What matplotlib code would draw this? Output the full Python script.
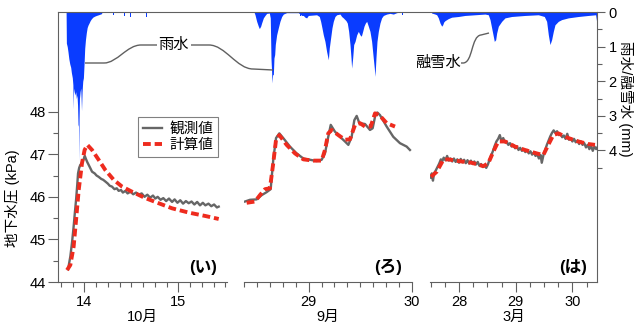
import matplotlib
matplotlib.use("Agg")
import matplotlib.pyplot as plt
from matplotlib.lines import Line2D
from matplotlib.path import Path
from matplotlib.patches import PathPatch
from matplotlib.transforms import Affine2D
from matplotlib.ticker import FixedLocator, MultipleLocator

plt.rcParams['font.family'] = ['Liberation Sans', 'Noto Sans CJK JP']

# -----------------------------
# DATA (day of month as float)
# -----------------------------
# panel (い) : October
obs1_t = [13.827, 13.851, 13.870, 13.886, 13.900, 13.912, 13.925, 13.933, 13.945, 13.957,
          13.970, 13.982, 13.995, 14.005, 14.015, 14.030, 14.046, 14.062, 14.082, 14.110,
          14.130, 14.152, 14.180, 14.200, 14.223, 14.250, 14.270, 14.294, 14.320, 14.345,
          14.365, 14.390, 14.410, 14.436, 14.460, 14.490, 14.520, 14.550, 14.578, 14.610,
          14.640, 14.670, 14.700, 14.730, 14.755, 14.780, 14.810, 14.840, 14.870, 14.900,
          14.933, 14.960, 14.990, 15.020, 15.050, 15.080, 15.110, 15.140, 15.170, 15.200,
          15.230, 15.260, 15.287, 15.320, 15.350, 15.380, 15.410, 15.429]
obs1_v = [44.30, 44.60, 44.95, 45.30, 45.65, 45.93, 46.30, 46.55, 46.68, 46.75,
          46.78, 46.83, 46.90, 46.96, 46.90, 46.82, 46.75, 46.68, 46.59, 46.55,
          46.50, 46.47, 46.42, 46.40, 46.36, 46.31, 46.26, 46.24, 46.18, 46.20,
          46.14, 46.16, 46.10, 46.14, 46.08, 46.12, 46.06, 46.10, 46.05, 46.08,
          46.00, 46.05, 45.98, 46.03, 45.96, 46.00, 45.93, 45.97, 45.90, 45.96,
          45.88, 45.94, 45.86, 45.92, 45.84, 45.90, 45.85, 45.89, 45.82, 45.88,
          45.80, 45.86, 45.80, 45.84, 45.78, 45.82, 45.75, 45.77]
calc1_t = [13.816, 13.851, 13.886, 13.912, 13.940, 13.975, 14.003, 14.032, 14.082, 14.152,
           14.223, 14.312, 14.401, 14.507, 14.649, 14.790, 14.933, 15.110, 15.287, 15.429]
calc1_v = [44.28, 44.40, 44.83, 45.46, 46.16, 46.79, 47.10, 47.22, 47.10, 46.87,
           46.63, 46.40, 46.24, 46.12, 45.97, 45.85, 45.73, 45.63, 45.55, 45.48]
rain1_t = [13.806, 13.809, 13.818, 13.826, 13.835, 13.845, 13.855, 13.862, 13.872, 13.878,
           13.882, 13.886, 13.892, 13.900, 13.908, 13.915, 13.922, 13.928, 13.933, 13.938,
           13.941, 13.944, 13.948, 13.955, 13.962, 13.967, 13.970, 13.976, 13.983, 13.990,
           13.997, 14.004, 14.012, 14.021, 14.030, 14.039, 14.050, 14.062, 14.074, 14.090,
           14.110, 14.128, 14.150, 14.181, 14.190]
rain1_v = [0.0, 0.9, 1.0, 1.15, 1.35, 1.5, 1.6, 1.75, 1.9, 2.1,
           2.8, 2.2, 2.3, 2.4, 2.3, 2.5, 2.4, 2.7, 3.25, 3.3,
           4.3, 3.1, 2.5, 2.3, 2.2, 2.6, 2.85, 2.3, 2.0, 1.9,
           1.5, 1.05, 0.8, 0.6, 0.45, 0.38, 0.32, 0.25, 0.2, 0.15,
           0.12, 0.1, 0.08, 0.05, 0.0]
spike1_t = [14.20, 14.26, 14.31, 14.38, 14.43, 14.49, 14.57, 14.66]
spike1_v = [0.12, 0.15, 0.10, 0.15, 0.12, 0.15, 0.10, 0.15]

# panel (ろ) : September
obs2_t = [28.382, 28.430, 28.495, 28.544, 28.592, 28.631, 28.656, 28.683, 28.715, 28.753,
          28.818, 28.883, 28.948, 29.013, 29.078, 29.126, 29.158, 29.190, 29.214, 29.255,
          29.304, 29.352, 29.385, 29.417, 29.443, 29.466, 29.492, 29.547, 29.595, 29.621,
          29.644, 29.666, 29.692, 29.757, 29.821, 29.886, 29.951, 29.983]
obs2_v = [45.89, 45.93, 45.94, 46.04, 46.11, 46.18, 46.87, 47.38, 47.49, 47.38,
          47.18, 47.02, 46.90, 46.87, 46.84, 46.87, 47.02, 47.41, 47.69, 47.53,
          47.41, 47.30, 47.22, 47.41, 47.80, 47.90, 47.73, 47.71, 47.57, 47.61,
          47.88, 47.98, 47.92, 47.65, 47.41, 47.26, 47.18, 47.10]
calc2_t = [28.398, 28.479, 28.527, 28.576, 28.624, 28.656, 28.683, 28.715, 28.786, 28.867,
           28.948, 29.045, 29.126, 29.158, 29.190, 29.223, 29.288, 29.352, 29.401, 29.450,
           29.498, 29.547, 29.602, 29.644, 29.686, 29.757, 29.838]
calc2_v = [45.86, 45.89, 46.04, 46.18, 46.20, 46.79, 47.34, 47.45, 47.22, 47.02,
           46.88, 46.85, 46.85, 47.10, 47.49, 47.57, 47.45, 47.34, 47.35, 47.69,
           47.73, 47.65, 47.65, 47.96, 47.92, 47.73, 47.65]
rain2_t = [28.469, 28.479, 28.495, 28.511, 28.521, 28.534, 28.543, 28.560, 28.576, 28.592,
           28.618, 28.627, 28.634, 28.640, 28.644, 28.650, 28.657, 28.663, 28.670, 28.676,
           28.689, 28.705, 28.721, 28.738, 28.754, 28.786, 28.899, 28.916, 28.932, 28.948,
           28.964, 28.980, 28.996, 29.077, 29.103, 29.116, 29.129, 29.142, 29.158, 29.174,
           29.191, 29.200, 29.213, 29.226, 29.239, 29.255, 29.272, 29.304, 29.320, 29.336,
           29.362, 29.375, 29.388, 29.401, 29.411, 29.417, 29.427, 29.437, 29.450, 29.466,
           29.482, 29.498, 29.511, 29.524, 29.537, 29.550, 29.563, 29.579, 29.595, 29.611,
           29.627, 29.637, 29.644, 29.653, 29.663, 29.676, 29.692, 29.708, 29.725, 29.757,
           29.789, 29.822, 29.854, 29.886]
rain2_v = [0.0, 0.08, 0.27, 0.41, 0.48, 0.41, 0.32, 0.17, 0.10, 0.04,
           0.03, 0.17, 1.33, 1.72, 2.05, 1.81, 1.81, 1.33, 1.23, 0.94,
           0.66, 0.46, 0.27, 0.13, 0.06, 0.02, 0.02, 0.06, 0.10, 0.10,
           0.15, 0.17, 0.10, 0.08, 0.13, 0.27, 0.46, 0.66, 0.85, 1.14,
           1.38, 1.04, 0.75, 0.46, 0.27, 0.13, 0.08, 0.06, 0.13, 0.17,
           0.25, 0.32, 0.56, 0.94, 1.33, 1.62, 1.33, 0.94, 0.85, 0.66,
           0.56, 0.66, 0.70, 0.56, 0.41, 0.32, 0.27, 0.41, 0.56, 0.85,
           1.33, 1.62, 1.86, 1.33, 0.85, 0.56, 0.32, 0.17, 0.10, 0.06,
           0.04, 0.06, 0.02, 0.0]
spike2_t = [28.92, 29.80, 29.91]
spike2_v = [0.12, 0.10, 0.10]

# panel (は) : March (snowmelt)
obs3_t = [27.50, 27.52, 27.54, 27.56, 27.59, 27.62, 27.65, 27.68, 27.70, 27.73,
          27.76, 27.79, 27.82, 27.85, 27.88, 27.91, 27.94, 27.97, 28.00, 28.03,
          28.06, 28.09, 28.12, 28.15, 28.18, 28.21, 28.24, 28.27, 28.30, 28.33,
          28.36, 28.39, 28.42, 28.45, 28.48, 28.51, 28.54, 28.57, 28.60, 28.63,
          28.66, 28.69, 28.72, 28.75, 28.78, 28.81, 28.84, 28.87, 28.90, 28.93,
          28.96, 28.99, 29.02, 29.05, 29.08, 29.11, 29.14, 29.17, 29.20, 29.23,
          29.26, 29.29, 29.32, 29.35, 29.38, 29.41, 29.44, 29.46, 29.49, 29.52,
          29.55, 29.58, 29.61, 29.64, 29.67, 29.70, 29.73, 29.76, 29.79, 29.82,
          29.85, 29.88, 29.91, 29.94, 29.97, 30.00, 30.03, 30.06, 30.09, 30.12,
          30.15, 30.18, 30.21, 30.24, 30.27, 30.30, 30.33, 30.36, 30.39, 30.42, 30.44]
obs3_v = [46.45, 46.55, 46.38, 46.55, 46.62, 46.70, 46.78, 46.88, 46.82, 46.92,
          46.86, 46.96, 46.85, 46.90, 46.83, 46.90, 46.82, 46.88, 46.80, 46.89,
          46.81, 46.87, 46.79, 46.86, 46.78, 46.85, 46.77, 46.83, 46.76, 46.82,
          46.73, 46.77, 46.70, 46.74, 46.68, 46.76, 46.88, 46.98, 47.08, 47.20,
          47.30, 47.36, 47.45, 47.30, 47.38, 47.28, 47.30, 47.22, 47.26, 47.18,
          47.22, 47.14, 47.19, 47.10, 47.15, 47.08, 47.12, 47.05, 47.10, 47.02,
          47.07, 46.99, 47.04, 46.96, 47.00, 46.90, 46.98, 46.80, 46.98, 47.10,
          47.22, 47.32, 47.42, 47.50, 47.56, 47.50, 47.54, 47.45, 47.48, 47.40,
          47.44, 47.36, 47.48, 47.34, 47.38, 47.30, 47.36, 47.28, 47.32, 47.24,
          47.30, 47.22, 47.26, 47.16, 47.22, 47.12, 47.20, 47.08, 47.18, 47.12, 47.16]
calc3_t = [27.506, 27.607, 27.723, 27.812, 27.988, 28.223, 28.429, 28.517, 28.605, 28.693,
           28.811, 28.988, 29.164, 29.370, 29.487, 29.575, 29.663, 29.751, 29.928, 30.105,
           30.281, 30.399]
calc3_v = [46.47, 46.59, 46.87, 46.88, 46.84, 46.80, 46.72, 46.79, 47.06, 47.30,
           47.30, 47.18, 47.10, 47.02, 46.98, 47.22, 47.45, 47.49, 47.38, 47.30,
           47.24, 47.22]
melt3_t = [27.506, 27.518, 27.577, 27.606, 27.635, 27.665, 27.694, 27.712, 27.730, 27.753,
           27.812, 27.871, 27.988, 28.106, 28.282, 28.459, 28.517, 28.547, 28.576, 28.605,
           28.623, 28.647, 28.664, 28.694, 28.753, 28.811, 28.929, 29.164, 29.399, 29.505,
           29.546, 29.576, 29.605, 29.634, 29.664, 29.693, 29.752, 29.811, 29.928, 30.105,
           30.281, 30.410, 30.428, 30.440]
melt3_v = [0.0, 0.03, 0.06, 0.08, 0.17, 0.32, 0.41, 0.37, 0.29, 0.25,
           0.19, 0.15, 0.13, 0.10, 0.08, 0.06, 0.08, 0.22, 0.46, 0.70,
           0.85, 0.80, 0.61, 0.41, 0.27, 0.17, 0.13, 0.10, 0.08, 0.13,
           0.27, 0.66, 0.94, 0.80, 0.56, 0.37, 0.27, 0.22, 0.17, 0.13,
           0.10, 0.08, 0.27, 0.46]

# -----------------------------
# STYLE
# -----------------------------
W, H = 640, 329
GRAY = '#666666'
RED = '#ee2b1e'
BLUE = '#0a3cff'
SPINE = '#606060'
TOP, BOTTOM = 12, 282

fig = plt.figure(figsize=(W / 100, H / 100), dpi=100)
to_fig = Affine2D().scale(1 / W, -1 / H).translate(0, 1) + fig.transFigure

panels = [
    dict(x=(58.3, 226.7), xlim=(13.723, 15.514), ticks=[14, 15], minor=0.125, month='10月', tag='(い)',
         obs=(obs1_t, obs1_v), calc=(calc1_t, calc1_v), rain=(rain1_t, rain1_v), spikes=(spike1_t, spike1_v)),
    dict(x=(244.3, 411.7), xlim=(28.375, 30.0), ticks=[29, 30], minor=0.125, month='9月', tag='(ろ)',
         obs=(obs2_t, obs2_v), calc=(calc2_t, calc2_v), rain=(rain2_t, rain2_v), spikes=(spike2_t, spike2_v)),
    dict(x=(430.0, 597.3), xlim=(27.488, 30.44), ticks=[28, 29, 30], minor=0.25, month='3月', tag='(は)',
         obs=(obs3_t, obs3_v), calc=(calc3_t, calc3_v), rain=(melt3_t, melt3_v), spikes=([], [])),
]

axes = []
for i, p in enumerate(panels):
    x0, x1 = p['x']
    ax = fig.add_axes([x0 / W, 1 - BOTTOM / H, (x1 - x0) / W, (BOTTOM - TOP) / H])
    ax.set_xlim(*p['xlim'])
    ax.set_ylim(44, 50.34)
    ax.patch.set_alpha(0)

    rain = ax.twinx()
    rain.set_ylim(7.80, 0)
    rt, rv = p['rain']
    rain.fill_between(rt, rv, 0, color=BLUE, lw=0)
    st, sv = p['spikes']
    if st:
        rain.bar(st, sv, width=0.006, color=BLUE, lw=0)

    ax.plot(*p['obs'], color=GRAY, lw=1.7, zorder=3, label='観測値')
    ax.plot(*p['calc'], color=RED, lw=2.8, dashes=(2, 1), zorder=4, label='計算値')

    for s in ['top', 'right', 'left']:
        ax.spines[s].set_visible(False)
    for s in ['top', 'left', 'bottom']:
        rain.spines[s].set_visible(False)
    ax.spines['bottom'].set_color(SPINE)
    ax.spines['bottom'].set_linewidth(0.8)

    ax.set_xticks(p['ticks'])
    ax.set_xticklabels([str(t) for t in p['ticks']])
    ax.xaxis.set_minor_locator(MultipleLocator(p['minor']))
    ax.set_xlabel(p['month'], fontsize=10.5, labelpad=1)
    ax.tick_params(axis='x', which='major', direction='out', length=7, width=0.8,
                   color=SPINE, labelsize=10.5, pad=2)
    ax.tick_params(axis='x', which='minor', direction='out', length=3.5, width=0.8, color=SPINE)

    if i == 0:
        ax.spines['left'].set_visible(True)
        ax.spines['left'].set_color(SPINE)
        ax.spines['left'].set_linewidth(0.8)
        ax.yaxis.set_major_locator(FixedLocator([44, 45, 46, 47, 48]))
        ax.yaxis.set_minor_locator(FixedLocator([44.5, 45.5, 46.5, 47.5]))
        ax.tick_params(axis='y', which='major', direction='out', length=7, width=0.8,
                       color=SPINE, labelsize=10.5, pad=2)
        ax.tick_params(axis='y', which='minor', direction='out', length=3.5, width=0.8, color=SPINE)
        ax.set_ylabel('地下水圧 (kPa)', fontsize=10.5, va='center')
        ax.yaxis.set_label_coords(-0.272, 0.311)
    else:
        ax.tick_params(axis='y', which='both', left=False, labelleft=False)

    if i == 2:
        rain.spines['right'].set_color(SPINE)
        rain.spines['right'].set_linewidth(0.8)
        rain.yaxis.set_major_locator(FixedLocator([0, 1, 2, 3, 4]))
        rain.yaxis.set_minor_locator(FixedLocator([0.5, 1.5, 2.5, 3.5, 4.5]))
        rain.tick_params(axis='y', which='major', direction='out', length=6, width=0.8,
                         color=SPINE, labelsize=10.5, pad=2)
        rain.tick_params(axis='y', which='minor', direction='out', length=3.5, width=0.8, color=SPINE)
        rain.set_ylabel('雨水/融雪水 (mm)', fontsize=10.5, rotation=270, va='center')
        rain.yaxis.set_label_coords(1.168, 0.68)
    else:
        rain.spines['right'].set_visible(False)
        rain.tick_params(axis='y', which='both', right=False, labelright=False)

    ax.text(0.94, 0.055, p['tag'], transform=ax.transAxes, ha='right', va='center',
            fontsize=12, fontweight='bold')
    axes.append(ax)

# continuous top frame line across all panels
fig.add_artist(Line2D([panels[0]['x'][0] / W, panels[2]['x'][1] / W], [1 - TOP / H] * 2,
                      color=SPINE, lw=0.8))

leg = axes[0].legend(loc='upper left', bbox_to_anchor=((138 - 58.3) / 168.4, (282 - 117) / 270),
                     borderaxespad=0, fontsize=10.5, frameon=True, fancybox=False,
                     edgecolor=SPINE, handlelength=1.3, handletextpad=0.5,
                     labelspacing=0.15, borderpad=0.35)
leg.get_frame().set_linewidth(0.8)


# leader lines for the rain / snowmelt labels (pixel coords, y down)
def leader(verts):
    codes = [Path.MOVETO, Path.LINETO, Path.CURVE4, Path.CURVE4, Path.CURVE4, Path.LINETO]
    fig.add_artist(PathPatch(Path(verts, codes), fc='none', ec=SPINE, lw=1.0, transform=to_fig))


leader([(85, 63), (104, 63), (117, 63), (127, 45), (141, 45), (157, 45)])
leader([(191, 45), (209, 45), (225, 45), (237, 69), (253, 69), (273, 70)])
leader([(461, 63), (463, 63), (473, 63), (471, 36), (481, 35), (489, 33)])
fig.text(173.5, 45, '雨水', transform=to_fig, ha='center', va='center', fontsize=11)
fig.text(437.5, 63, '融雪水', transform=to_fig, ha='center', va='center', fontsize=11)

fig.savefig('out.png', dpi=100)
